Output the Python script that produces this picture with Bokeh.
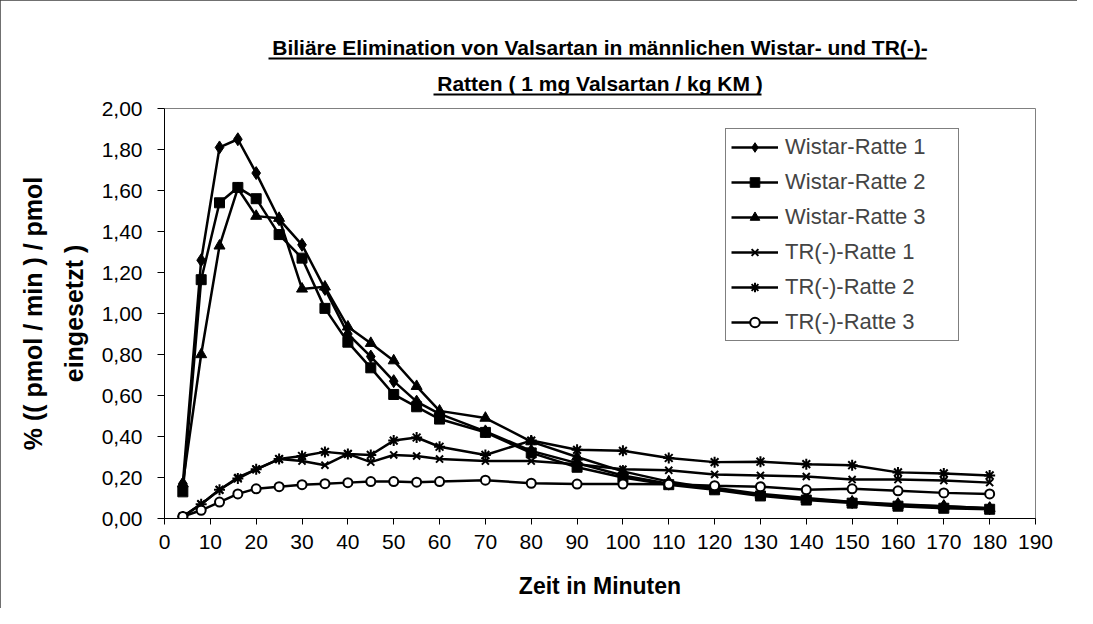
from bokeh.plotting import figure
from bokeh.models import Legend, LegendItem, Title, LinearAxis, FixedTicker, Range1d
from bokeh.embed import file_html
from bokeh.resources import INLINE

# ---------------- data ----------------
title_lines = ["Biliäre Elimination von Valsartan in männlichen Wistar- und TR(-)-",
               "Ratten ( 1 mg Valsartan / kg KM )"]
x_title = "Zeit in Minuten"
y_title_lines = ["% (( pmol / min ) / pmol", "eingesetzt )"]

time_min = [4, 8, 12, 16, 20, 25, 30, 35, 40, 45, 50, 55, 60,
            70, 80, 90, 100, 110, 120, 130, 140, 150, 160, 170, 180]

wistar_1 = [0.17, 1.26, 1.81, 1.85, 1.685, 1.46, 1.335, 1.12, 0.90, 0.79, 0.67, 0.57, 0.51,
            0.425, 0.33, 0.27, 0.21, 0.17, 0.15, 0.12, 0.10, 0.08, 0.07, 0.06, 0.05]
wistar_2 = [0.13, 1.165, 1.54, 1.615, 1.56, 1.385, 1.27, 1.025, 0.86, 0.735, 0.605, 0.545, 0.485,
            0.42, 0.32, 0.25, 0.20, 0.165, 0.14, 0.11, 0.09, 0.075, 0.06, 0.05, 0.045]
wistar_3 = [0.17, 0.80, 1.33, 1.61, 1.475, 1.465, 1.12, 1.13, 0.935, 0.855, 0.77, 0.645, 0.525,
            0.49, 0.375, 0.30, 0.23, 0.18, 0.145, 0.115, 0.095, 0.08, 0.065, 0.06, 0.05]
tr_1 = [0.01, 0.07, 0.14, 0.20, 0.24, 0.29, 0.28, 0.26, 0.315, 0.275, 0.31, 0.305, 0.29,
        0.28, 0.28, 0.265, 0.24, 0.235, 0.215, 0.21, 0.205, 0.19, 0.19, 0.185, 0.175]
tr_2 = [0.01, 0.07, 0.14, 0.195, 0.24, 0.29, 0.305, 0.325, 0.315, 0.31, 0.38, 0.395, 0.35,
        0.31, 0.38, 0.335, 0.33, 0.295, 0.275, 0.277, 0.265, 0.26, 0.225, 0.22, 0.21]
tr_3 = [0.01, 0.04, 0.08, 0.12, 0.145, 0.155, 0.165, 0.17, 0.175, 0.18, 0.18, 0.177, 0.18,
        0.187, 0.172, 0.168, 0.168, 0.167, 0.16, 0.155, 0.14, 0.145, 0.135, 0.125, 0.12]

series_names = ["Wistar-Ratte 1", "Wistar-Ratte 2", "Wistar-Ratte 3",
                "TR(-)-Ratte 1", "TR(-)-Ratte 2", "TR(-)-Ratte 3"]
series_values = [wistar_1, wistar_2, wistar_3, tr_1, tr_2, tr_3]

x_ticks = [0, 10, 20, 30, 40, 50, 60, 70, 80, 90, 100, 110, 120, 130, 140, 150, 160, 170, 180, 190]
y_ticks = [0.0, 0.2, 0.4, 0.6, 0.8, 1.0, 1.2, 1.4, 1.6, 1.8, 2.0]
y_tick_labels = ["0,00", "0,20", "0,40", "0,60", "0,80", "1,00", "1,20", "1,40", "1,60", "1,80", "2,00"]

# ---------------- layout / styles ----------------
FONT = "Liberation Sans"
X_MIN, X_MAX = 0, 190
FRAME_W = 871
markers = ["diamond", "square", "triangle", "x", "asterisk", "circle"]
marker_sizes = [13, 10, 11, 10, 11, 9]
marker_fill = ["black", "black", "black", "black", "black", "white"]

p = figure(width=1077, height=608, x_range=Range1d(X_MIN, X_MAX), y_range=Range1d(0, 2),
           output_backend="svg", toolbar_location=None,
           min_border_left=164, min_border_right=42, min_border_top=108, min_border_bottom=90)
p.grid.visible = False
p.background_fill_color = "white"
p.border_fill_color = "white"
p.outline_line_color = "#808080"
p.outline_line_width = 1
p.styles = {"outline": "1px solid #404040", "outline-offset": "-1px"}

for ax in (p.xaxis[0], p.yaxis[0]):
    ax.axis_line_color = "black"
    ax.axis_line_width = 1
    ax.major_tick_line_color = "black"
    ax.major_tick_in = 0
    ax.minor_tick_in = 0
    ax.minor_tick_out = 0
    ax.major_label_text_font = FONT
    ax.major_label_text_font_size = "21px"
    ax.major_label_text_color = "black"

p.xaxis.ticker = FixedTicker(ticks=x_ticks)
p.xaxis.major_tick_out = 6
p.xaxis.major_label_standoff = 10
p.xaxis.axis_label = x_title
p.xaxis.axis_label_text_font = FONT
p.xaxis.axis_label_text_font_style = "bold"
p.xaxis.axis_label_text_font_size = "23px"
p.xaxis.axis_label_text_color = "black"
p.xaxis.axis_label_standoff = 21

p.yaxis.ticker = FixedTicker(ticks=y_ticks)
p.yaxis.major_label_overrides = {t: l for t, l in zip(y_ticks, y_tick_labels)}
p.yaxis.major_tick_out = 7
p.yaxis.major_label_standoff = 15

items = []
for name, vals, mk, ms, mf in zip(series_names, series_values, markers, marker_sizes, marker_fill):
    lr = p.line(time_min, vals, line_color="black", line_width=2.5)
    sr = p.scatter(time_min, vals, marker=mk, size=ms, fill_color=mf,
                   line_color="black", line_width=2 if mk in ("x", "asterisk", "circle") else 1)
    items.append(LegendItem(label=name, renderers=[lr, sr]))

legend = Legend(items=items, location=(561, 177))
legend.border_line_color = "black"
legend.border_line_width = 1
legend.background_fill_color = "white"
legend.background_fill_alpha = 1
legend.label_text_font = FONT
legend.label_text_font_size = "22px"
legend.glyph_width = 47
legend.glyph_height = 24
legend.label_height = 24
legend.label_width = 168
legend.label_standoff = 7
legend.spacing = 9
legend.padding = 5
legend.margin = 0
p.add_layout(legend)

# ---------------- chart title with underlines (stacked in the "above" panel) ----------------
TITLE_CENTER_PX = 433      # from the frame's left edge
TITLE_OFFSET = TITLE_CENTER_PX - FRAME_W / 2
PPU = FRAME_W / (X_MAX - X_MIN)


def underline(half_width_px):
    c = TITLE_CENTER_PX / PPU
    h = half_width_px / PPU
    return LinearAxis(ticker=FixedTicker(ticks=[]), bounds=(c - h, c + h),
                      major_tick_in=0, major_tick_out=0, minor_tick_in=0, minor_tick_out=0,
                      major_label_text_font_size="0px", major_label_standoff=0,
                      axis_line_color="black", axis_line_width=2)


def spacer(gap_px):
    return LinearAxis(ticker=FixedTicker(ticks=[X_MIN]),
                      major_tick_in=0, major_tick_out=gap_px, minor_tick_in=0, minor_tick_out=0,
                      major_tick_line_color="white", major_label_text_font_size="0px",
                      major_label_standoff=0, major_label_overrides={X_MIN: ""},
                      axis_line_color=None)


def title(text):
    return Title(text=text, align="center", offset=TITLE_OFFSET, standoff=0,
                 text_font=FONT, text_font_size="21px", text_font_style="bold",
                 text_color="black")


p.above = [
    spacer(14),
    underline(164),
    title(title_lines[1]),
    spacer(11),
    underline(329),
    title(title_lines[0]),
]


# ---------------- two-line y axis title ----------------
def ytitle(text, standoff):
    return Title(text=text, align="center", offset=21, standoff=standoff,
                 text_font=FONT, text_font_size="25px", text_font_style="bold",
                 text_color="black")


p.left = [p.yaxis[0], ytitle(y_title_lines[1], 21), ytitle(y_title_lines[0], 1)]

open("out.html", "w").write(file_html(p, INLINE))
